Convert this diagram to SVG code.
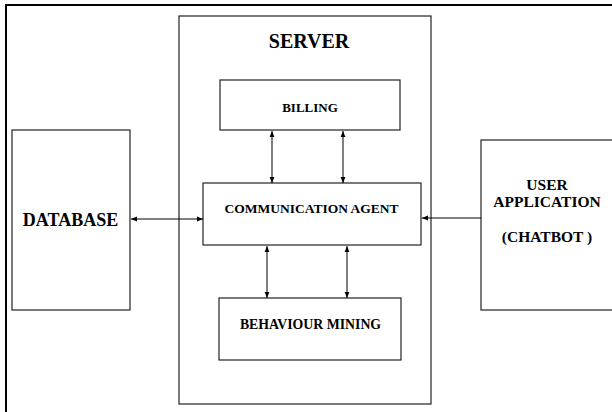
<svg xmlns="http://www.w3.org/2000/svg" width="612" height="412" viewBox="0 0 612 412">
<style>
.box{fill:#fff;stroke:#222;stroke-width:1.2}
.t{font-family:"Liberation Serif","Times New Roman",serif;font-weight:bold;fill:#000;text-anchor:middle}
.c{stroke:#000;stroke-width:1;fill:none}
</style>
<defs>
<marker id="ah" viewBox="0 0 10 10" refX="10" refY="5" markerWidth="6" markerHeight="6" markerUnits="userSpaceOnUse" orient="auto-start-reverse">
<path d="M0,1 L10,5 L0,9 Z" fill="#000"/>
</marker>
</defs>
<rect x="0" y="0" width="612" height="412" fill="#fff"/>
<rect x="6" y="5" width="700" height="500" fill="none" stroke="#000" stroke-width="2"/>
<g id="server">
<rect class="box" x="179" y="16" width="252" height="388" stroke="#444"/>
<text class="t" x="309" y="48" font-size="20">SERVER</text>
</g>
<g id="billing">
<rect class="box" x="220" y="80" width="180" height="50"/>
<text class="t" x="310" y="112" font-size="13">BILLING</text>
</g>
<g id="comm">
<rect class="box" x="203" y="183" width="218" height="62"/>
<text class="t" x="311.5" y="213" font-size="13.5">COMMUNICATION AGENT</text>
</g>
<g id="behaviour">
<rect class="box" x="219" y="298" width="182" height="62"/>
<text class="t" x="310.5" y="329" font-size="13.8">BEHAVIOUR MINING</text>
</g>
<g id="database">
<rect class="box" x="12" y="130" width="118" height="180"/>
<text class="t" x="70.5" y="226" font-size="18">DATABASE</text>
</g>
<g id="user">
<rect class="box" x="481" y="140" width="140" height="170"/>
<text class="t" x="547" y="190" font-size="15.5">USER</text>
<text class="t" x="547" y="207" font-size="15.5">APPLICATION</text>
<text class="t" x="547" y="242" font-size="15.5">(CHATBOT )</text>
</g>
<g id="connectors">
<line class="c" x1="272" y1="131" x2="272" y2="183" marker-start="url(#ah)" marker-end="url(#ah)"/>
<line class="c" x1="343" y1="131" x2="343" y2="183" marker-start="url(#ah)" marker-end="url(#ah)"/>
<line class="c" x1="267" y1="246" x2="267" y2="298" marker-start="url(#ah)" marker-end="url(#ah)"/>
<line class="c" x1="347" y1="246" x2="347" y2="298" marker-start="url(#ah)" marker-end="url(#ah)"/>
<line class="c" x1="131" y1="219" x2="203" y2="219" marker-start="url(#ah)" marker-end="url(#ah)"/>
<line class="c" x1="481" y1="218" x2="422" y2="218" marker-end="url(#ah)"/>
</g>
</svg>
